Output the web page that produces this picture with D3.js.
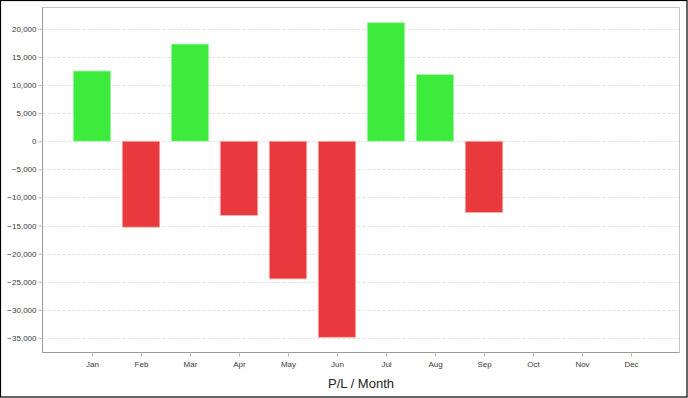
<!DOCTYPE html>
<meta charset="utf-8">
<html lang="en">
<head>
	<meta charset="utf-8">
	<title>P/L per month</title>
	<script type="text/javascript" src="https://cdn.jsdelivr.net/npm/d3@7"></script>
	<style type="text/css">
		body { margin: 0; background: #fff; }
		svg { display: block; font-family: "Liberation Sans", Arial, sans-serif; }
	</style>
</head>
<body>
	<script type="text/javascript">
// DATA
		var months = ["Jan", "Feb", "Mar", "Apr", "May", "Jun", "Jul", "Aug", "Sep", "Oct", "Nov", "Dec"];
		var profit = [12500, -15300, 17300, -13200, -24500, -34900, 21100, 11900, -12700, null, null, null];
		var yTicks = [20000, 15000, 10000, 5000, 0, -5000, -10000, -15000, -20000, -25000, -30000, -35000];

		var w = 688;
		var h = 398;
		// plot edges (note: "top" is reserved on window, so use plotTop)
		var plotLeft = 42.5, plotRight = 679.5, plotTop = 7.5, plotBottom = 352.5;

// SVG
		var svg = d3.select("body")
			.append("svg")
			.attr("width", w)
			.attr("height", h);

		// outer frame
		svg.append("rect")
			.attr("x", 0.5).attr("y", 0.5)
			.attr("width", w - 1.5).attr("height", h - 1.5)
			.attr("fill", "white")
			.attr("stroke", "black")
			.attr("stroke-width", 1.2);

		var x = d3.scalePoint()
			.domain(months)
			.range([plotLeft, plotRight])
			.padding(1);

		var y = d3.scaleLinear()
			.domain([-37600, 23800])
			.range([plotBottom, plotTop]);

		var barW = 37.5;

// GRID
		svg.selectAll("line.grid")
			.data(yTicks)
			.enter()
			.append("line")
			.attr("class", "grid")
			.attr("x1", plotLeft)
			.attr("x2", plotRight)
			.attr("y1", function(d) { return Math.round(y(d)) + 0.5; })
			.attr("y2", function(d) { return Math.round(y(d)) + 0.5; })
			.attr("stroke", "#e2e2e2")
			.attr("stroke-dasharray", "3,2");

// BARS
		svg.selectAll("rect.bar")
			.data(profit.map(function(v, i) { return { m: months[i], v: v }; }).filter(function(d) { return d.v !== null; }))
			.enter()
			.append("rect")
			.attr("class", "bar")
			.attr("x", function(d) { return x(d.m) - barW / 2 + 0.5; })
			.attr("y", function(d) { return y(Math.max(0, d.v)); })
			.attr("width", barW)
			.attr("height", function(d) { return Math.abs(y(d.v) - y(0)); })
			.attr("fill", function(d) { return d.v >= 0 ? "#3deb3d" : "#e8393d"; })
			.attr("stroke", function(d) { return d.v >= 0 ? "#b8f5b8" : "#f5b5b6"; })
			.attr("stroke-width", 0.8);

// PLOT FRAME
		svg.append("line")
			.attr("x1", plotLeft).attr("x2", plotRight).attr("y1", plotTop).attr("y2", plotTop)
			.attr("stroke", "#c4c4c4");
		svg.append("line")
			.attr("x1", plotRight).attr("x2", plotRight).attr("y1", plotTop).attr("y2", plotBottom)
			.attr("stroke", "#c4c4c4");

// AXES
		var yAxis = d3.axisLeft(y)
			.tickValues(yTicks)
			.tickSize(4)
			.tickFormat(d3.format(","));
		var gy = svg.append("g")
			.attr("transform", "translate(" + plotLeft + ",0)")
			.call(yAxis);

		var xAxis = d3.axisBottom(x)
			.tickSize(4);
		var gx = svg.append("g")
			.attr("transform", "translate(0.5," + plotBottom + ")")
			.call(xAxis);

		[gy, gx].forEach(function(g) {
			g.select(".domain").attr("stroke", "#9a9a9a");
			g.selectAll(".tick line").attr("stroke", "#bbbbbb");
			g.selectAll(".tick text")
				.attr("fill", "#3a3a3a")
				.attr("font-size", "8px")
				.attr("font-family", "Liberation Sans, Arial, sans-serif");
		});
		gy.selectAll(".tick text").attr("x", -6);
		gx.selectAll(".tick text").attr("y", 9);
		gy.select(".domain").attr("d", "M0," + plotTop + "V" + plotBottom);
		gx.select(".domain").attr("d", "M" + (plotLeft - 0.5) + ",0H" + (plotRight - 0.5));

// TITLE
		svg.append("text")
			.text("P/L / Month")
			.attr("x", (plotLeft + plotRight) / 2)
			.attr("y", 388)
			.attr("text-anchor", "middle")
			.attr("font-size", "13px")
			.attr("fill", "#222");
	</script>
</body>
</html>
